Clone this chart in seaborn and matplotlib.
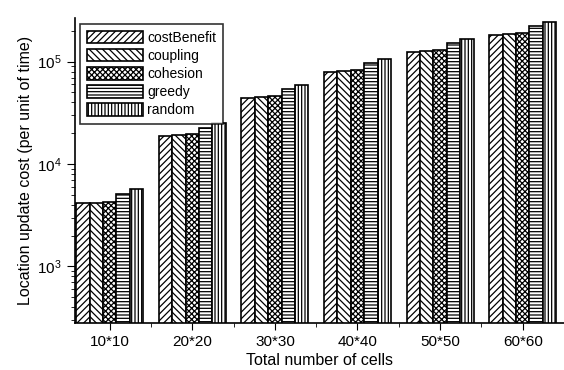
import seaborn as sns
import matplotlib.pyplot as plt
import pandas as pd

# values
cells = ["10*10", "20*20", "30*30", "40*40", "50*50", "60*60"]
cost_benefit = [4160, 18800, 44000, 79900, 125000, 182000]
coupling = [4200, 19100, 45000, 80600, 126000, 185000]
cohesion = [4300, 19700, 46000, 82400, 129000, 189000]
greedy = [5130, 22700, 53900, 97100, 153000, 222000]
random_ = [5690, 25200, 58900, 107000, 168000, 242000]

methods = ["costBenefit", "coupling", "cohesion", "greedy", "random"]
hatches = ["/////", "\\\\\\\\\\", "xxxxxx", "-----", "|||||"]

rows = []
for name, vals in zip(methods, [cost_benefit, coupling, cohesion, greedy, random_]):
    for c, v in zip(cells, vals):
        rows.append({"cells": c, "method": name, "cost": v})
df = pd.DataFrame(rows)

sns.set_style("ticks")
plt.rcParams["font.family"] = ["Liberation Sans", "DejaVu Sans"]
plt.rcParams["hatch.linewidth"] = 0.9
plt.rcParams["text.color"] = "black"
plt.rcParams["axes.labelcolor"] = "black"
plt.rcParams["xtick.color"] = "black"
plt.rcParams["ytick.color"] = "black"

fig = plt.figure(figsize=(5.64, 3.70), dpi=100)
ax = fig.add_axes([75 / 564, 47 / 370, 489 / 564, 305 / 370])

sns.barplot(data=df, x="cells", y="cost", hue="method", hue_order=methods,
            width=0.81, legend=False, ax=ax, saturation=1)

for cont, h in zip(ax.containers, hatches):
    for p in cont:
        p.set_facecolor("white")
        p.set_edgecolor("black")
        p.set_linewidth(1.2)
        p.set_hatch(h)

ax.set_yscale("log")
ax.set_ylim(280, 2.67e5)
ax.set_xlim(-0.42, 5.42)

ax.set_xticks(range(len(cells)))
ax.set_xticks([i + 0.5 for i in range(len(cells))], minor=True)
ax.tick_params(axis="x", which="major", direction="out", length=5, labelsize=11)
ax.tick_params(axis="x", which="minor", direction="out", length=3)
ax.tick_params(axis="y", which="major", direction="out", length=6, labelsize=11)
ax.tick_params(axis="y", which="minor", direction="out", length=3)

ax.set_xlabel("Total number of cells", fontsize=11.5, labelpad=3)
ax.set_ylabel("Location update cost (per unit of time)", fontsize=11.5, labelpad=3)

for s in ["top", "right"]:
    ax.spines[s].set_visible(False)
for s in ["left", "bottom"]:
    ax.spines[s].set_linewidth(1.2)
    ax.spines[s].set_color("black")

leg = ax.legend(ax.containers, methods, loc="upper left",
                bbox_to_anchor=(0.005, 0.99), fontsize=10, frameon=True,
                fancybox=False, handlelength=4.0, handleheight=1.0,
                handletextpad=0.3, labelspacing=0.3, borderpad=0.5,
                borderaxespad=0.2)
leg.get_frame().set_edgecolor("black")
leg.get_frame().set_linewidth(1.2)

fig.savefig("out.png", dpi=100)
